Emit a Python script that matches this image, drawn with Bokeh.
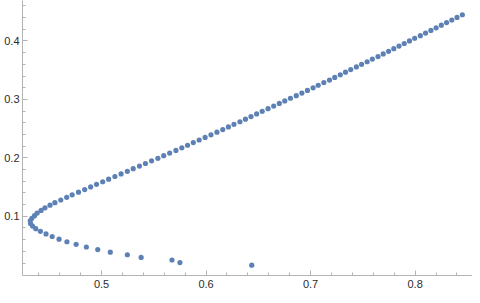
from bokeh.plotting import figure
from bokeh.models import FixedTicker, Range1d, ColumnDataSource
from bokeh.embed import file_html
from bokeh.resources import INLINE

x_vals = [0.6437, 0.5750, 0.5674, 0.5379, 0.5247, 0.5084, 0.4964, 0.4855, 0.4757, 0.4669,
          0.4594, 0.4528, 0.4469, 0.4415, 0.4371, 0.4340, 0.4321, 0.4318, 0.4333, 0.4359,
          0.4384, 0.4422, 0.4459, 0.4507, 0.4554, 0.4610, 0.4667, 0.4719, 0.4780, 0.4839,
          0.4896, 0.4952, 0.5011, 0.5068, 0.5128, 0.5187, 0.5247, 0.5303, 0.5363, 0.5420,
          0.5479, 0.5539, 0.5595, 0.5652, 0.5712, 0.5768, 0.5823, 0.5878, 0.5934, 0.5991,
          0.6047, 0.6104, 0.6160, 0.6214, 0.6267, 0.6324, 0.6377, 0.6430, 0.6484, 0.6537,
          0.6593, 0.6647, 0.6701, 0.6753, 0.6807, 0.6863, 0.6917, 0.6970, 0.7024, 0.7073,
          0.7127, 0.7181, 0.7231, 0.7284, 0.7334, 0.7384, 0.7438, 0.7488, 0.7541, 0.7591,
          0.7645, 0.7695, 0.7746, 0.7796, 0.7846, 0.7896, 0.7946, 0.7996, 0.8050, 0.8100,
          0.8151, 0.8201, 0.8251, 0.8301, 0.8351, 0.8401, 0.8452]

y_vals = [0.0163, 0.0208, 0.0252, 0.0297, 0.0342, 0.0386, 0.0431, 0.0475, 0.0520, 0.0565,
          0.0609, 0.0654, 0.0699, 0.0743, 0.0788, 0.0833, 0.0877, 0.0922, 0.0966, 0.1011,
          0.1056, 0.1100, 0.1145, 0.1190, 0.1234, 0.1279, 0.1324, 0.1368, 0.1413, 0.1457,
          0.1502, 0.1547, 0.1591, 0.1636, 0.1681, 0.1725, 0.1770, 0.1815, 0.1859, 0.1904,
          0.1949, 0.1993, 0.2038, 0.2082, 0.2127, 0.2172, 0.2216, 0.2261, 0.2306, 0.2350,
          0.2395, 0.2440, 0.2484, 0.2529, 0.2574, 0.2618, 0.2663, 0.2707, 0.2752, 0.2797,
          0.2841, 0.2886, 0.2931, 0.2975, 0.3020, 0.3065, 0.3109, 0.3154, 0.3199, 0.3243,
          0.3288, 0.3332, 0.3377, 0.3422, 0.3466, 0.3511, 0.3556, 0.3600, 0.3645, 0.3690,
          0.3734, 0.3779, 0.3824, 0.3868, 0.3913, 0.3957, 0.4002, 0.4047, 0.4091, 0.4136,
          0.4181, 0.4225, 0.4270, 0.4315, 0.4359, 0.4404, 0.4449]

x_major = [0.5, 0.6, 0.7, 0.8]
x_minor = [0.44, 0.46, 0.48, 0.52, 0.54, 0.56, 0.58, 0.62, 0.64, 0.66, 0.68,
           0.72, 0.74, 0.76, 0.78, 0.82, 0.84]
y_major = [0.1, 0.2, 0.3, 0.4]
y_minor = [0.02, 0.04, 0.06, 0.08, 0.12, 0.14, 0.16, 0.18, 0.22, 0.24, 0.26, 0.28,
           0.32, 0.34, 0.36, 0.38, 0.42, 0.44, 0.46]

src = ColumnDataSource(dict(x=x_vals, y=y_vals))

p = figure(width=472, height=295, output_backend="svg", toolbar_location=None,
           x_range=Range1d(0.4244, 0.8549), y_range=Range1d(-0.0013, 0.4693),
           min_border_left=22, min_border_right=0, min_border_top=0, min_border_bottom=20)
p.outline_line_color = None
p.grid.visible = False
p.background_fill_color = "white"
p.border_fill_color = "white"

p.scatter("x", "y", source=src, size=5.2, color="#5e81b5", line_color=None)

p.xaxis.ticker = FixedTicker(ticks=x_major, minor_ticks=x_minor)
p.yaxis.ticker = FixedTicker(ticks=y_major, minor_ticks=y_minor)

for ax in (p.xaxis, p.yaxis):
    ax.axis_line_color = "#b3b3b3"
    ax.major_tick_line_color = "#b3b3b3"
    ax.minor_tick_line_color = "#b3b3b3"
    ax.major_tick_in = 5
    ax.major_tick_out = 0
    ax.minor_tick_in = 3
    ax.minor_tick_out = 0
    ax.major_label_text_font = "Liberation Sans"
    ax.major_label_text_font_size = "11px"
    ax.major_label_text_color = "#2b2b2b"

p.xaxis.major_label_standoff = 4
p.yaxis.major_label_standoff = 3

open("out.html", "w").write(file_html(p, INLINE))
